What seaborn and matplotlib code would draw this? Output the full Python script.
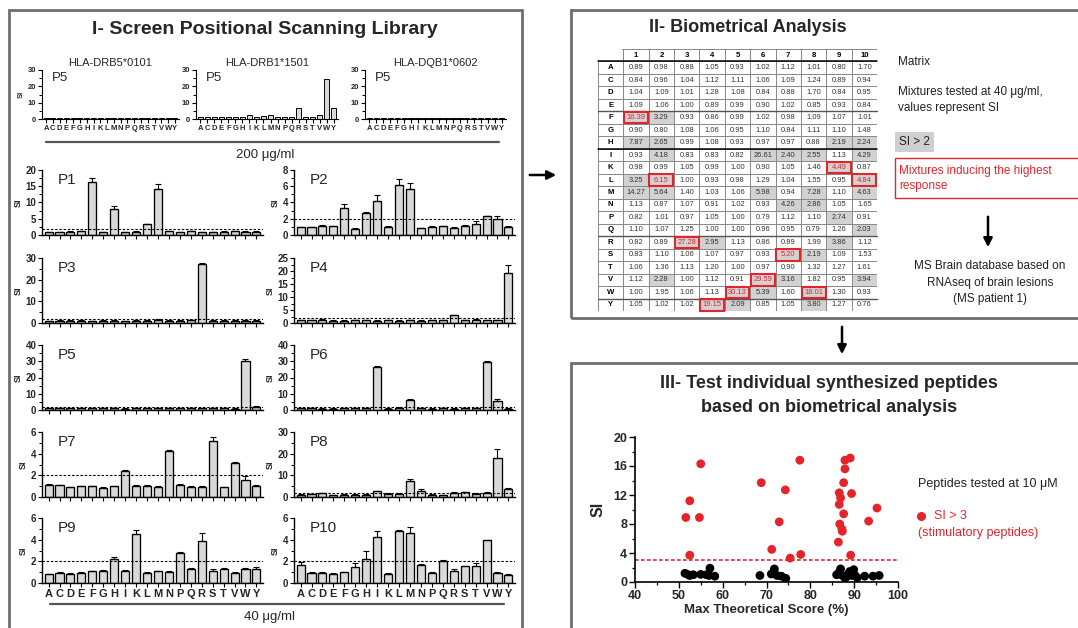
import numpy as np
import pandas as pd
import matplotlib
matplotlib.use('Agg')
import matplotlib.pyplot as plt
from matplotlib.patches import Rectangle, FancyArrowPatch
from matplotlib.lines import Line2D
from matplotlib.colors import ListedColormap
from matplotlib.ticker import MultipleLocator
import seaborn as sns

sns.set_theme(style='ticks')
plt.rcParams['font.family'] = ['Liberation Sans', 'DejaVu Sans']

# ---------------- data ----------------
aa = ['A', 'C', 'D', 'E', 'F', 'G', 'H', 'I', 'K', 'L', 'M', 'N', 'P', 'Q', 'R', 'S', 'T', 'V', 'W', 'Y']

# HLA screens at 200 ug/ml (position 5)
hla_titles = ['HLA-DRB5*0101', 'HLA-DRB1*1501', 'HLA-DQB1*0602']
si_drb5 = [0.5, 0.5, 0.5, 0.6, 0.5, 0.5, 0.6, 0.5, 0.6, 0.7, 0.5, 0.5, 0.5, 0.6, 0.8, 0.6, 0.5, 0.5, 0.8, 0.5]
si_drb1 = [1.0, 1.2, 1.1, 1.1, 1.0, 1.0, 1.0, 2.3, 1.0, 1.8, 2.2, 1.3, 1.3, 1.3, 6.6, 1.2, 1.2, 2.7, 24.5, 6.6]
si_dqb1 = [0.5, 0.5, 0.5, 0.5, 0.5, 0.5, 0.5, 0.5, 0.5, 0.5, 0.5, 0.5, 0.5, 0.5, 0.6, 0.6, 0.5, 0.5, 0.6, 0.5]

# Positional scanning library at 40 ug/ml: SI per position (= matrix columns)
si_p1 = [0.89, 0.84, 1.04, 1.09, 16.39, 0.90, 7.87, 0.93, 0.98, 3.25, 14.27, 1.13, 0.82, 1.10, 0.82, 0.83, 1.06, 1.12, 1.00, 1.05]
si_p2 = [0.98, 0.96, 1.09, 1.06, 3.29, 0.80, 2.65, 4.18, 0.99, 6.15, 5.64, 0.87, 1.01, 1.07, 0.89, 1.10, 1.36, 2.28, 1.95, 1.02]
si_p3 = [0.88, 1.04, 1.01, 1.00, 0.93, 1.08, 0.99, 0.83, 1.05, 1.00, 1.40, 1.07, 0.97, 1.25, 27.28, 1.06, 1.13, 1.00, 1.06, 1.02]
si_p4 = [1.05, 1.12, 1.28, 0.89, 0.86, 1.06, 1.08, 0.83, 0.99, 0.93, 1.03, 0.91, 1.05, 1.00, 2.95, 1.07, 1.20, 1.12, 1.13, 19.15]
si_p5 = [0.93, 1.11, 1.08, 0.99, 0.99, 0.95, 0.93, 0.82, 1.00, 0.98, 1.06, 1.02, 1.00, 1.00, 1.13, 0.97, 1.00, 0.91, 30.13, 2.09]
si_p6 = [1.02, 1.06, 0.84, 0.90, 1.02, 1.10, 0.97, 26.61, 0.90, 1.29, 5.98, 0.93, 0.79, 0.96, 0.86, 0.93, 0.97, 29.59, 5.39, 0.85]
si_p7 = [1.12, 1.09, 0.88, 1.02, 0.98, 0.84, 0.97, 2.40, 1.05, 1.04, 0.94, 4.26, 1.12, 0.95, 0.89, 5.20, 0.90, 3.16, 1.60, 1.05]
si_p8 = [1.01, 1.24, 1.70, 0.85, 1.09, 1.11, 0.88, 2.55, 1.46, 1.55, 7.28, 2.86, 1.10, 0.79, 1.99, 2.19, 1.32, 1.82, 18.01, 3.80]
si_p9 = [0.80, 0.89, 0.84, 0.93, 1.07, 1.10, 2.19, 1.13, 4.49, 0.95, 1.10, 1.05, 2.74, 1.26, 3.86, 1.09, 1.27, 0.95, 1.30, 1.27]
si_p10 = [1.70, 0.94, 0.95, 0.84, 1.01, 1.48, 2.24, 4.29, 0.87, 4.84, 4.63, 1.65, 0.91, 2.03, 1.12, 1.53, 1.61, 3.94, 0.93, 0.76]

# error bars (SD, upper only)
err_p1 = [0.1, 0.1, 0.1, 0.1, 1.0, 0.1, 0.9, 0.1, 0.1, 0.2, 1.5, 0.1, 0.1, 0.1, 0.1, 0.1, 0.1, 0.1, 0.1, 0.1]
err_p2 = [0.05, 0.05, 0.08, 0.05, 0.5, 0.05, 0.2, 0.7, 0.08, 0.7, 0.8, 0.05, 0.05, 0.08, 0.05, 0.08, 0.35, 0.08, 0.4, 0.05]
err_p3 = [0.2, 0.2, 0.2, 0.2, 0.2, 0.2, 0.2, 0.2, 0.2, 0.2, 0.3, 0.2, 0.2, 0.2, 0.3, 0.2, 0.2, 0.2, 0.2, 0.2]
err_p4 = [0.2, 0.2, 0.2, 0.2, 0.2, 0.2, 0.2, 0.2, 0.2, 0.2, 0.2, 0.2, 0.2, 0.2, 0.3, 0.2, 0.2, 0.2, 0.2, 3.0]
err_p5 = [0.3, 0.3, 0.3, 0.3, 0.3, 0.3, 0.3, 0.3, 0.3, 0.3, 0.3, 0.3, 0.3, 0.3, 0.3, 0.3, 0.3, 0.3, 1.2, 0.3]
err_p6 = [0.3, 0.3, 0.3, 0.3, 0.3, 0.3, 0.3, 0.6, 0.3, 0.5, 0.5, 0.3, 0.3, 0.3, 0.3, 0.3, 0.3, 0.6, 1.2, 0.3]
err_p7 = [0.04, 0.04, 0.04, 0.04, 0.04, 0.04, 0.04, 0.08, 0.04, 0.06, 0.04, 0.05, 0.04, 0.04, 0.1, 0.35, 0.06, 0.08, 0.3, 0.04]
err_p8 = [0.3, 0.3, 0.3, 0.3, 0.3, 0.3, 0.3, 0.3, 0.3, 0.3, 1.2, 0.7, 0.3, 0.3, 0.3, 0.3, 0.3, 0.3, 4.0, 0.5]
err_p9 = [0.05, 0.1, 0.05, 0.05, 0.08, 0.08, 0.2, 0.1, 0.4, 0.05, 0.05, 0.1, 0.15, 0.08, 0.75, 0.2, 0.08, 0.08, 0.05, 0.25]
err_p10 = [0.2, 0.05, 0.05, 0.05, 0.05, 0.4, 0.7, 0.5, 0.05, 0.05, 0.55, 0.08, 0.15, 0.05, 0.15, 0.05, 0.25, 0.05, 0.05, 0.05]

positions = ['P1', 'P2', 'P3', 'P4', 'P5', 'P6', 'P7', 'P8', 'P9', 'P10']
pos_vals = [si_p1, si_p2, si_p3, si_p4, si_p5, si_p6, si_p7, si_p8, si_p9, si_p10]
pos_errs = [err_p1, err_p2, err_p3, err_p4, err_p5, err_p6, err_p7, err_p8, err_p9, err_p10]
pos_yticks = [[0, 5, 10, 15, 20], [0, 2, 4, 6, 8], [0, 10, 20, 30], [0, 5, 10, 15, 20, 25],
              [0, 10, 20, 30, 40], [0, 10, 20, 30, 40], [0, 2, 4, 6], [0, 10, 20, 30],
              [0, 2, 4, 6], [0, 2, 4, 6]]
pos_minor = [2.5, 1, 5, 2.5, 5, 5, 1, 5, 1, 1]

# highest-response mixtures (row letter, column number)
highlight = [('F', 1), ('L', 2), ('R', 3), ('Y', 4), ('W', 5), ('V', 6), ('S', 7), ('W', 8), ('K', 9), ('L', 10)]

# Individual peptides tested at 10 uM
stim_score = [51.6, 52.5, 52.5, 54.7, 55.0, 68.8, 71.2, 72.9, 74.3, 75.4, 77.6, 77.8,
              86.4, 86.6, 86.6, 86.7, 86.9, 87.2, 87.3, 87.6, 87.6, 87.9, 87.9, 89.1, 89.4, 89.2, 93.3, 95.2]
stim_si = [8.9, 11.2, 3.7, 8.9, 16.3, 13.7, 4.5, 8.3, 12.7, 3.3, 16.8, 3.8,
           5.5, 12.3, 10.7, 8.0, 11.6, 7.3, 7.0, 13.7, 9.4, 15.6, 16.8, 17.1, 12.2, 3.7, 8.4, 10.2]
non_score = [51.4, 52.2, 52.5, 53.3, 55.0, 56.3, 57.1, 56.9, 58.2, 68.5, 71.1, 71.8, 72.4, 73.4, 74.4,
             86.0, 86.4, 86.9, 87.3, 87.9, 88.2, 88.7, 89.0, 89.4, 89.9, 90.2, 90.7, 92.4, 94.3, 95.7]
non_si = [1.2, 1.0, 0.9, 1.0, 1.05, 1.0, 1.9, 0.9, 0.8, 0.9, 1.1, 1.8, 0.9, 0.8, 0.5,
          1.0, 1.2, 1.8, 0.9, 0.55, 0.7, 1.1, 1.45, 0.9, 1.7, 0.9, 0.6, 0.8, 0.8, 0.9]

# ---------------- figure ----------------
W, H = 1078, 628
fig = plt.figure(figsize=(W / 100, H / 100), dpi=100)
fig.patch.set_facecolor('white')
RED = '#e3242b'
BAR = '#d9d9d9'


def add_ax(l, t, r, b):
    return fig.add_axes([l / W, 1 - b / H, (r - l) / W, (b - t) / H])


def ftext(x, y, s, **kw):
    return fig.text(x / W, 1 - y / H, s, **kw)


def fline(x0, y0, x1, y1, **kw):
    fig.add_artist(Line2D([x0 / W, x1 / W], [1 - y0 / H, 1 - y1 / H], transform=fig.transFigure, **kw))


def farrow(x0, y0, x1, y1):
    fig.add_artist(FancyArrowPatch((x0 / W, 1 - y0 / H), (x1 / W, 1 - y1 / H), transform=fig.transFigure,
                                   arrowstyle='-|>', mutation_scale=13, lw=1.8, color='black'))


def fbox(l, t, r, b, ec='#6e6e6e', lw=2.0, fc='none'):
    fig.add_artist(Rectangle((l / W, 1 - b / H), (r - l) / W, (b - t) / H, transform=fig.transFigure,
                             facecolor=fc, edgecolor=ec, lw=lw))


def bar_panel(ax, vals, errs, label, yticks, minor, show_letters, dashed=True, small=False):
    df = pd.DataFrame({'aa': aa, 'si': vals})
    sns.barplot(data=df, x='aa', y='si', order=aa, color=BAR, saturation=1, edgecolor='black',
                linewidth=0.95 if not small else 0.7, width=0.74, errorbar=None, ax=ax, zorder=2)
    if errs is not None:
        ax.errorbar(np.arange(len(aa)), vals, yerr=[np.zeros(len(aa)), errs], fmt='none', ecolor='black',
                    elinewidth=0.8, capsize=2.0, capthick=0.8, zorder=3)
    ax.set_xlim(-0.6, len(aa) - 0.4)
    ax.set_ylim(0, yticks[-1])
    ax.set_yticks(yticks)
    ax.yaxis.set_minor_locator(MultipleLocator(minor))
    if dashed:
        ax.axhline(2, ls=(0, (2.2, 1.6)), color='black', lw=0.8, zorder=4)
    sns.despine(ax=ax)
    for sp in ('left', 'bottom'):
        ax.spines[sp].set_linewidth(1.0 if not small else 0.8)
        ax.spines[sp].set_color('black')
    ax.set_xlabel('')
    ax.set_ylabel('SI', fontsize=6.5 if not small else 5.5, fontweight='bold', labelpad=2)
    lsz = 7 if not small else 5.5
    ax.tick_params(axis='both', which='major', length=3, width=0.8, labelsize=lsz, pad=1, color='black')
    ax.tick_params(axis='y', which='minor', length=2, width=0.7, color='black')
    ax.tick_params(axis='x', labelbottom=show_letters, labelsize=8 if not small else 5.5)
    for lab in ax.get_yticklabels() + ax.get_xticklabels():
        lab.set_fontweight('bold')
    ax.text(0.07, 0.84, label, transform=ax.transAxes, fontsize=11 if not small else 9.5,
            va='center', ha='left')
    ax.set_facecolor('none')


# ---- Panel I ----
fbox(9, 10, 522, 650)
ftext(265, 29, 'I- Screen Positional Scanning Library', fontsize=14, fontweight='bold', ha='center', va='center')

hla_vals = [si_drb5, si_drb1, si_dqb1]
hla_x = [(42, 179), (196, 338), (365, 506)]
for i, (vals, (l, r)) in enumerate(zip(hla_vals, hla_x)):
    ax = add_ax(l, 70, r, 119)
    bar_panel(ax, vals, None, 'P5', [0, 10, 20, 30], 5, True, dashed=False, small=True)
    if i > 0:
        ax.set_ylabel('')
    ax.set_title(hla_titles[i], fontsize=8, pad=3)
fline(46, 142, 499, 142, color='#555555', lw=1.6)
ftext(265, 155, '200 μg/ml', fontsize=9.5, ha='center', va='center')

tops = [170, 258, 345, 432, 518]
for k in range(10):
    row, col = divmod(k, 2)
    l, r = (42, 263) if col == 0 else (294, 515)
    t = tops[row]
    ax = add_ax(l, t, r, t + 65)
    bar_panel(ax, pos_vals[k], pos_errs[k], positions[k], pos_yticks[k], pos_minor[k], row == 4)
fline(50, 604, 504, 604, color='#555555', lw=1.6)
ftext(270, 617, '40 μg/ml', fontsize=9.5, ha='center', va='center')

# ---- Panel II ----
fbox(571, 10, 1095, 318)
ftext(748, 28, 'II- Biometrical Analysis', fontsize=13, fontweight='bold', ha='center', va='center')

mat = np.column_stack(pos_vals)  # rows = aa, cols = positions
nr, nc = mat.shape
annot = np.empty((nr + 1, nc + 1), dtype=object)
shade = np.zeros((nr + 1, nc + 1))
annot[0, 0] = ''
for j in range(nc):
    annot[0, j + 1] = str(j + 1)
for i in range(nr):
    annot[i + 1, 0] = aa[i]
    for j in range(nc):
        annot[i + 1, j + 1] = f'{mat[i, j]:.2f}'
        shade[i + 1, j + 1] = 1.0 if mat[i, j] > 2 else 0.0

axT = add_ax(598, 49, 877, 311)
sns.heatmap(shade, annot=annot, fmt='', cmap=ListedColormap(['white', '#d2d2d2']), vmin=0, vmax=1,
            cbar=False, linewidths=0.6, linecolor='#8a8a8a', xticklabels=False, yticklabels=False,
            annot_kws={'fontsize': 5.4, 'color': '#333333'}, ax=axT)
hl_set = {(aa.index(r) + 1, c) for r, c in highlight}
for idx, txt in enumerate(axT.texts):
    r, c = divmod(idx, nc + 1)
    if r == 0 or c == 0:
        txt.set_fontweight('bold')
        txt.set_color('black')
        txt.set_fontsize(5.6)
    elif (r, c) in hl_set:
        txt.set_color(RED)
axT.add_patch(Rectangle((-0.2, -0.2), 1.15, 1.15, facecolor='white', edgecolor='none', zorder=5, clip_on=False))
for yl, lw, colr in [(1, 1.1, 'black'), (5, 1.0, '#555555'), (8, 1.1, 'black'), (15, 1.0, '#555555'), (20, 1.0, '#555555')]:
    axT.plot([0, nc + 1], [yl, yl], color=colr, lw=lw, zorder=6, clip_on=False)
for (r, c) in hl_set:
    axT.add_patch(Rectangle((c + 0.03, r + 0.04), 0.94, 0.92, fill=False, edgecolor=RED, lw=1.5, zorder=7,
                            clip_on=False))
axT.set_xlabel('')
axT.set_ylabel('')

ftext(898, 62, 'Matrix', fontsize=8.5, ha='left', va='center', color='#222222')
ftext(898, 92, 'Mixtures tested at 40 μg/ml,', fontsize=8.5, ha='left', va='center', color='#222222')
ftext(898, 108, 'values represent SI', fontsize=8.5, ha='left', va='center', color='#222222')
ftext(899, 142, 'SI > 2', fontsize=8.5, ha='left', va='center', color='#222222',
      bbox=dict(boxstyle='square,pad=0.35', facecolor='#cfcfcf', edgecolor='none'))
fbox(895, 158, 1095, 198, ec=RED, lw=1.0, fc='white')
ftext(899, 171, 'Mixtures inducing the highest', fontsize=8.5, ha='left', va='center', color=RED)
ftext(899, 186, 'response', fontsize=8.5, ha='left', va='center', color=RED)
farrow(988, 214, 988, 250)
ftext(990, 266, 'MS Brain database based on', fontsize=8.5, ha='center', va='center', color='#222222')
ftext(990, 283, 'RNAseq of brain lesions', fontsize=8.5, ha='center', va='center', color='#222222')
ftext(990, 299, '(MS patient 1)', fontsize=8.5, ha='center', va='center', color='#222222')

# arrows between panels
farrow(527, 175, 559, 175)
farrow(842, 324, 842, 357)

# ---- Panel III ----
fbox(571, 363, 1095, 660)
ftext(829, 384, 'III- Test individual synthesized peptides', fontsize=13, fontweight='bold', ha='center', va='center')
ftext(829, 407, 'based on biometrical analysis', fontsize=13, fontweight='bold', ha='center', va='center')

axS = add_ax(635, 437, 898, 582)
sdf = pd.DataFrame({'score': stim_score + non_score,
                    'si': stim_si + non_si,
                    'grp': ['stim'] * len(stim_score) + ['non'] * len(non_score)})
sns.scatterplot(data=sdf, x='score', y='si', hue='grp', palette={'stim': RED, 'non': 'black'},
                s=40, edgecolor='none', legend=False, ax=axS, zorder=3)
axS.axhline(3, color=RED, ls=(0, (2.2, 1.4)), lw=1.2, zorder=2)
axS.set_xlim(40, 100)
axS.set_ylim(0, 20)
axS.set_xticks([40, 50, 60, 70, 80, 90, 100])
axS.set_yticks([0, 4, 8, 12, 16, 20])
axS.xaxis.set_minor_locator(MultipleLocator(5))
axS.yaxis.set_minor_locator(MultipleLocator(2))
sns.despine(ax=axS)
for sp in ('left', 'bottom'):
    axS.spines[sp].set_linewidth(1.2)
    axS.spines[sp].set_color('black')
axS.tick_params(axis='both', which='major', length=4, width=1.0, labelsize=9, pad=1.5, color='black')
axS.tick_params(axis='both', which='minor', length=2.5, width=0.9, color='black')
for lab in axS.get_xticklabels() + axS.get_yticklabels():
    lab.set_fontweight('bold')
axS.set_xlabel('Max Theoretical Score (%)', fontsize=9.5, fontweight='bold', labelpad=2)
axS.set_ylabel('SI', fontsize=11.5, fontweight='bold', labelpad=6)
axS.set_facecolor('none')

ftext(918, 484, 'Peptides tested at 10 μM', fontsize=9, ha='left', va='center', color='#222222')
fig.add_artist(Line2D([921 / W], [1 - 516 / H], transform=fig.transFigure, marker='o', markersize=6.5,
                      color=RED, markeredgewidth=0, linestyle='none'))
ftext(934, 516, 'SI > 3', fontsize=9, ha='left', va='center', color=RED)
ftext(918, 533, '(stimulatory peptides)', fontsize=9, ha='left', va='center', color=RED)

fig.savefig('out.png', dpi=100, facecolor='white')
